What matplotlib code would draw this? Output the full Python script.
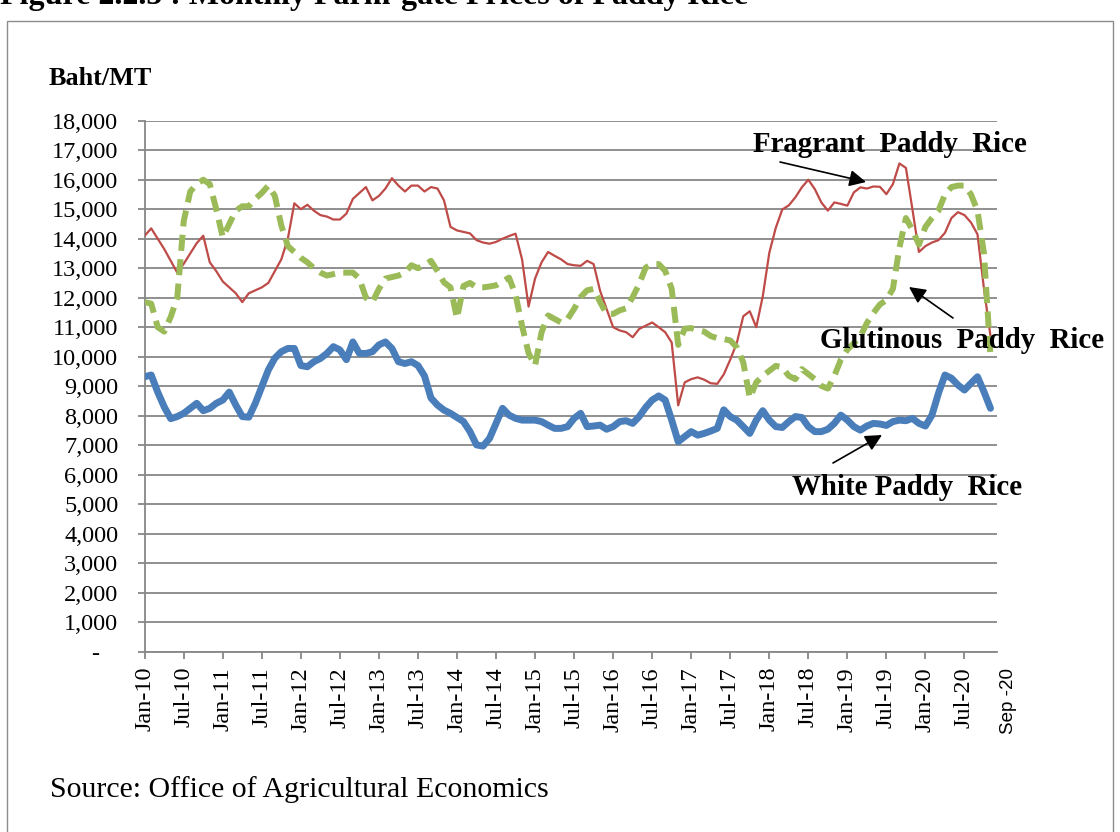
import matplotlib
matplotlib.use('Agg')
import matplotlib.pyplot as plt
from matplotlib.patches import Rectangle, FancyArrowPatch
from matplotlib.ticker import FuncFormatter

# monthly farm-gate prices, Baht/MT, Jan-10 onwards
fragrant = [14100, 14350, 14000, 13650, 13250, 12850, 13150, 13500, 13850, 14100,
            13200, 12900, 12550, 12350, 12150, 11850, 12150, 12250, 12350, 12500,
            12900, 13300, 14000, 15200, 15000, 15150, 14950, 14800, 14750, 14650,
            14650, 14850, 15350, 15550, 15750, 15300, 15450, 15700, 16050, 15800,
            15600, 15800, 15800, 15600, 15750, 15700, 15300, 14400, 14280, 14230,
            14180, 13950, 13870, 13830, 13890, 14000, 14090, 14170, 13300, 11700,
            12650, 13200, 13550, 13420, 13300, 13140, 13100, 13080, 13250, 13140,
            12230, 11620, 11000, 10890, 10830, 10660, 10940, 11050, 11160, 11000,
            10830, 10480, 8350, 9130, 9240, 9300, 9220, 9100, 9080, 9400,
            9900, 10460, 11370, 11540, 11000, 12050, 13520, 14370, 14990, 15130,
            15400, 15740, 16000, 15680, 15230, 14950, 15230, 15180, 15120, 15570,
            15740, 15700, 15770, 15760, 15510, 15850, 16550, 16400, 15000, 13550,
            13750, 13870, 13950, 14200, 14700, 14900, 14800, 14550, 14150, 12300,
            10700]

glutinous = [11850, 11800, 11000, 10850, 11350, 12000, 14600, 15600, 15850, 16000,
             15850, 15000, 14050, 14500, 14950, 15100, 15100, 15350, 15550, 15800,
             15450, 14450, 13750, 13550, 13350, 13200, 13000, 12850, 12750, 12800,
             12850, 12850, 12850, 12650, 12000, 11850, 12300, 12650, 12700, 12750,
             12850, 13100, 13000, 13100, 13250, 12900, 12520, 12350, 11300, 12400,
             12500, 12350, 12350, 12380, 12420, 12550, 12680, 12100, 11050, 10120,
             9700, 10830, 11400, 11280, 11160, 11280, 11620, 12020, 12250, 12300,
             11850, 11450, 11450, 11570, 11640, 12020, 12460, 13020, 13140, 13140,
             12910, 12300, 10400, 10950, 10970, 10900, 10850, 10700, 10630, 10600,
             10550, 10320, 9810, 8600, 9130, 9350, 9520, 9690, 9640, 9350,
             9240, 9580, 9410, 9240, 9010, 8920, 9350, 9900, 10240, 10460,
             10690, 11140, 11480, 11770, 11920, 12300, 13700, 14700, 14300, 13800,
             14400, 14700, 14950, 15500, 15750, 15800, 15800, 15500, 14950, 13500,
             10000]

white = [9320, 9380, 8800, 8300, 7900, 7970, 8080, 8250, 8420, 8170,
         8250, 8420, 8530, 8800, 8360, 7970, 7950, 8420, 8980, 9550,
         9950, 10170, 10280, 10280, 9700, 9660, 9830, 9940, 10110, 10340,
         10230, 9900, 10500, 10110, 10110, 10170, 10400, 10500, 10280, 9830,
         9770, 9830, 9700, 9350, 8600, 8360, 8190, 8080, 7940, 7800,
         7460, 7010, 6970, 7230, 7740, 8250, 8020, 7910, 7850, 7850,
         7850, 7800, 7680, 7570, 7570, 7630, 7910, 8080, 7630, 7650,
         7680, 7540, 7630, 7800, 7830, 7740, 7970, 8280, 8530, 8670,
         8530, 7850, 7120, 7290, 7460, 7340, 7400, 7480, 7570, 8200,
         7970, 7850, 7630, 7400, 7850, 8170, 7850, 7630, 7600, 7800,
         7970, 7940, 7630, 7460, 7460, 7540, 7740, 8020, 7850, 7630,
         7510, 7650, 7740, 7720, 7670, 7800, 7850, 7830, 7910, 7740,
         7650, 8020, 8760, 9380, 9270, 9040, 8870, 9100, 9320, 8810,
         8250]

tick_labels = ['Jan-10', 'Jul-10', 'Jan-11', 'Jul-11', 'Jan-12', 'Jul-12',
               'Jan-13', 'Jul-13', 'Jan-14', 'Jul-14', 'Jan-15', 'Jul-15',
               'Jan-16', 'Jul-16', 'Jan-17', 'Jul-17', 'Jan-18', 'Jul-18',
               'Jan-19', 'Jul-19', 'Jan-20', 'Jul-20']

serif = 'Liberation Serif'
W, H = 1120, 832

fig = plt.figure(figsize=(W / 100, H / 100), dpi=100)
ax = fig.add_axes([144.7 / W, 1 - 651.7 / H, (997 - 144.7) / W, (651.7 - 120.7) / H])

x = list(range(len(white)))
ax.plot(x, fragrant, color='#BE4B48', lw=1.6, solid_joinstyle='round', zorder=3)
ax.plot(x, glutinous, color='#9BBB59', lw=4.3, ls=(0, (2.7, 1.4)), zorder=3)
ax.plot(x, white, color='#4A7EBB', lw=5, solid_joinstyle='round',
        solid_capstyle='round', zorder=4)

ax.set_xlim(0, 131)
ax.set_ylim(0, 18000)
ax.set_yticks(range(0, 18001, 1000))
ax.yaxis.set_major_formatter(FuncFormatter(lambda v, p: '-   ' if v == 0 else f'{int(v):,}'))
ax.set_xticks(range(0, 127, 6))
ax.set_xticklabels(tick_labels, rotation=90)

ax.grid(axis='y', color='#878787', lw=1.3)
ax.set_axisbelow(True)
for s in ['top', 'right']:
    ax.spines[s].set_visible(False)
for s in ['left', 'bottom']:
    ax.spines[s].set_color('#878787')
    ax.spines[s].set_linewidth(1.3)
ax.tick_params(axis='y', length=5, width=1.3, color='#878787', pad=14, labelsize=17.5)
ax.tick_params(axis='x', length=5, width=1.3, color='#878787', pad=6, labelsize=17.5)
for lab in ax.get_xticklabels() + ax.get_yticklabels():
    lab.set_fontfamily(serif)

ax.text(132.7, -550, 'Sep -20', rotation=90, ha='center', va='top',
        fontsize=13.5, family='Liberation Sans')

def fx(px):
    return px / W

def fy(py):
    return 1 - py / H

# frame and the caption cut off at the top edge
fig.patches.append(Rectangle((fx(7), fy(840)), fx(1113) - fx(7), fy(21) - fy(840),
                             transform=fig.transFigure, fill=False, ec='#8c8c8c', lw=1))
fig.text(fx(0), fy(4), 'Figure 2.2.5 : Monthly Farm-gate Prices of Paddy Rice',
         fontsize=23, weight='bold', family=serif, va='baseline')

fig.text(fx(49), fy(85), 'Baht/MT', fontsize=18.8, weight='bold', family=serif, va='baseline')
fig.text(fx(50), fy(797), 'Source: Office of Agricultural Economics', fontsize=21.5,
         family=serif, va='baseline')

lab_kw = dict(fontsize=20.8, weight='bold', family=serif, va='baseline', ha='left')
fig.text(fx(753), fy(152), 'Fragrant  Paddy  Rice', **lab_kw)
fig.text(fx(820), fy(348), 'Glutinous  Paddy  Rice', **lab_kw)
fig.text(fx(792), fy(495), 'White Paddy  Rice', **lab_kw)

arrows = [((780, 162), (866, 182)), ((953, 318), (909, 287)), ((833, 463), (882, 435))]
for (x0, y0), (x1, y1) in arrows:
    fig.add_artist(FancyArrowPatch(
        (fx(x0), fy(y0)), (fx(x1), fy(y1)), transform=fig.transFigure,
        arrowstyle='-|>,head_length=10,head_width=5', color='black', lw=1.2,
        shrinkA=0, shrinkB=0))

fig.savefig('out.png', dpi=100)
